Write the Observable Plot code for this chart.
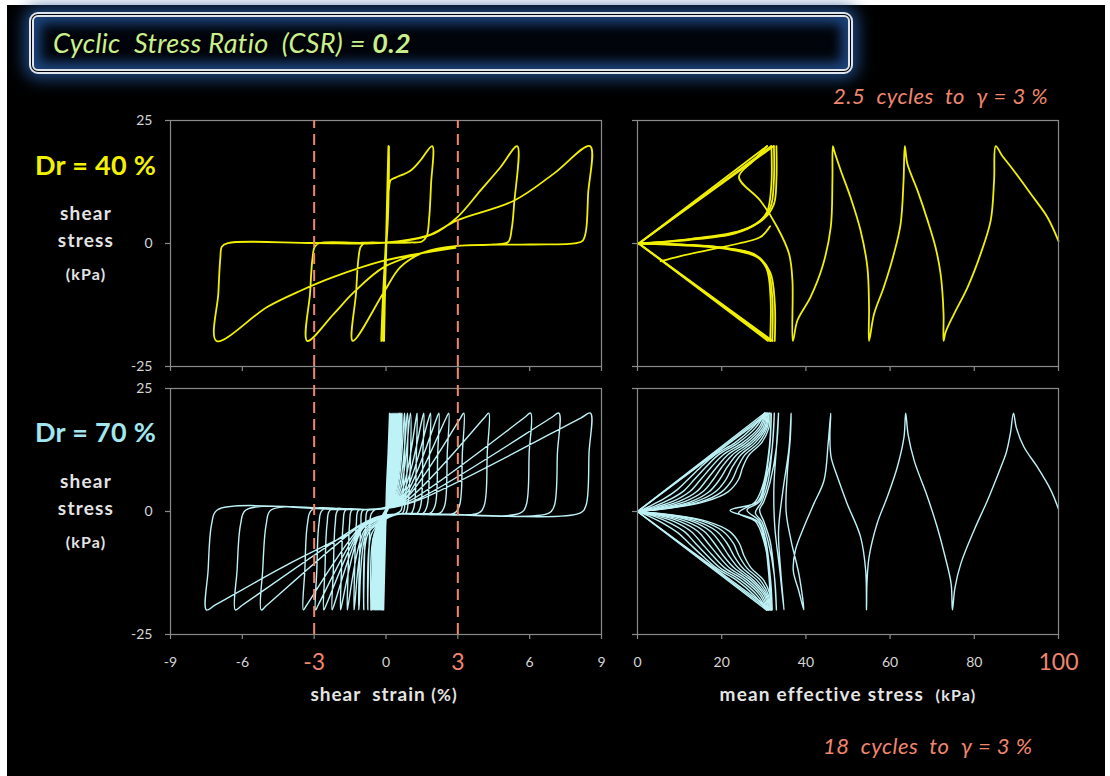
<!DOCTYPE html>
<html>
<head>
<meta charset="utf-8">
<script src="https://cdn.jsdelivr.net/npm/d3@7"></script>
<script src="https://cdn.jsdelivr.net/npm/@observablehq/plot@0.6"></script>
<style>
  html, body { margin: 0; padding: 0; background: #fff; }
  body { width: 1110px; height: 776px; position: relative; overflow: hidden; font-family: Lato, "Open Sans", sans-serif; }
  #stage { position: absolute; left: 7px; top: 5px; width: 1098px; height: 771px; background: #000; }
  .t { position: absolute; white-space: pre; line-height: 1; }
  .c { text-align: center; }
  .lab { font-weight: 700; color: #e4e4e4; }
  .panel { position: absolute; }
  #titlebox {
    position: absolute; left: 29px; top: 12px; width: 824px; height: 62px; box-sizing: border-box;
    border: 5px double #dfe3ea; border-radius: 9px;
    background: #01040a;
    box-shadow: 0 0 16px 5px rgba(34, 84, 150, 0.85), inset 0 0 12px 7px rgba(30, 72, 130, 0.95);
  }
</style>
</head>
<body>
<div id="stage"></div>
<div id="titlebox"></div>
<div class="t" style="left:53px;top:29px;font-size:27px;letter-spacing:0.3px;font-style:italic;color:#c9f08c;text-shadow:0 0 3px #000">Cyclic  Stress Ratio  (CSR) = <b>0.2</b></div>

<div class="t" style="left:833px;top:85px;font-size:22px;letter-spacing:0.5px;font-style:italic;color:#f0866c">2.5  cycles  to  γ = 3 %</div>
<div class="t" style="left:823px;top:735px;font-size:22px;letter-spacing:0.5px;font-style:italic;color:#f0866c">18  cycles  to  γ = 3 %</div>

<div class="t" style="left:35px;top:151px;font-size:27px;letter-spacing:0.3px;font-weight:700;color:#f2f200">Dr = 40 %</div>
<div class="t c lab" style="left:36px;width:100px;top:203px;font-size:19px;letter-spacing:1.2px">shear</div>
<div class="t c lab" style="left:36px;width:100px;top:230px;font-size:19px;letter-spacing:1.2px">stress</div>
<div class="t c lab" style="left:36px;width:100px;top:266px;font-size:16px;letter-spacing:1.1px">(kPa)</div>

<div class="t" style="left:35px;top:418px;font-size:27px;letter-spacing:0.3px;font-weight:700;color:#a2e6f0">Dr = 70 %</div>
<div class="t c lab" style="left:36px;width:100px;top:471px;font-size:19px;letter-spacing:1.2px">shear</div>
<div class="t c lab" style="left:36px;width:100px;top:498px;font-size:19px;letter-spacing:1.2px">stress</div>
<div class="t c lab" style="left:36px;width:100px;top:534px;font-size:16px;letter-spacing:1.1px">(kPa)</div>

<div class="t c lab" style="left:284px;width:200px;top:684px;font-size:19px;letter-spacing:1px">shear  strain <span style="font-size:17px">(%)</span></div>
<div class="t c lab" style="left:698px;width:300px;top:684px;font-size:19px;letter-spacing:1.2px">mean effective stress  <span style="font-size:16px">(kPa)</span></div>

<div id="tl" class="panel" style="left:130px;top:110px"></div>
<div id="tr" class="panel" style="left:597px;top:110px"></div>
<div id="bl" class="panel" style="left:130px;top:358px"></div>
<div id="br" class="panel" style="left:597px;top:358px"></div>

<script>
// ---- axes ----
const strainTicks = [-9, -6, -3, 0, 3, 6, 9];
const strainMarked = [-3, 3];            // γ = ±3 % criterion
const pTicks = [0, 20, 40, 60, 80, 100];
const pMarked = [100];
const stressTicks = [-25, 0, 25];

// ---- Dr = 40 %: shear stress (kPa) vs shear strain (%) ----
const loopDr40 = [
  [0,0],[0.04,8],[0.1,19.8],
  [0.05,5],[-0.02,-5],[-0.08,-19.8],
  [-0.03,-8],[0.05,5],[0.12,19.8],
  [0.06,5],[-0.04,-5],[-0.14,-19.8],
  [-0.08,-8],[0.04,5],[0.13,19.8],
  [0.08,5],[-0.05,-5],[-0.2,-19.8],
  [-0.12,-10],[0.05,5],[0.12,11],[0.2,12.9],[0.4,13.4],[1.02,14.8],[1.44,16.9],[1.93,19.8],
  [1.88,12],[1.8,5],[1.7,1.5],[1.5,0.4],[1.0,0.2],[0,0.15],[-0.85,0.1],[-1.05,-0.6],[-1.15,-3],[-1.25,-10],[-1.39,-19.8],
  [-0.09,-9.9],[0.6,-4.8],[1.58,-1.8],[2.97,-0.5],[4.5,-0.2],[5.1,0.3],[5.25,3],[5.35,8],[5.48,19.8],
  [4.78,15.5],[3.95,10.8],[2.97,5.3],[2.0,2.0],[0.6,0.4],[-1,0.15],[-2.75,0.1],[-2.97,-0.6],[-3.07,-3],[-3.17,-10],[-3.29,-19.8],
  [-2.18,-14.3],[-1.34,-9.9],[-0.09,-4.8],[1.58,-1.8],[3.0,-0.5],[6,-0.2],[7.95,0.1],[8.22,0.6],[8.35,2.5],[8.44,10],[8.52,19.8],
  [7.01,14.2],[5.34,8.7],[2.97,4.7],[1.72,1.6],[-0.09,0.15],[-3,0.1],[-6.6,0.1],[-6.85,-0.6],[-6.92,-3],[-7.0,-10],[-7.08,-19.8],
  [-4.96,-12.9],[-3.57,-9.6],[-2.18,-6.8],[-0.09,-3.5],[1.72,-1.8],[2.9,-0.9]
];

// ---- Dr = 40 %: stress path, shear stress vs mean effective stress ----
const pathDr40 = [
  [100,0.5],[97.4,5.3],[93.4,10.1],[89.4,14.8],[86.5,18],[85.1,19.8],
  [84.7,12.8],[83.9,4.7],[81.5,-2.1],[78.4,-8.9],[75.2,-14.3],[73.2,-18],[72.7,-19.8],
  [72.7,-14.3],[72.0,-6.2],[70.8,-0.8],[68.9,4.7],[66.5,10.8],[64.1,16.2],[63.5,19.8],
  [63.2,12.8],[62.5,4.0],[60.9,-2.1],[58.5,-8.9],[56.2,-14.3],[55.0,-19.8],
  [55.0,-12.9],[54.6,-4.8],[53.0,2.6],[50.6,9.4],[48.3,14.8],[46.7,18.9],[46.4,19.8],
  [46.3,12.8],[45.9,3.3],[43.9,-4.8],[41.1,-10.9],[38.0,-15.6],[36.9,-19.8],
  [36.8,-7.5],[36.0,-2.1],[33.2,3.3],[29.2,8.7],[24.1,13.5],[27.5,16.8],[30.8,19.8]
];
const arcsDr40 = [
  [[32.4,19.8],[32.4,12.8],[31.6,7.4],[29.2,4.7],[23.7,2.3],[11.8,0.8],[0.3,0]],
  [[31.8,19.8],[31.8,12],[30.8,6.5],[28.3,4],[23,2],[12,0.7],[0.3,0]],
  [[33,19.8],[33,13],[32.4,8],[30,5],[24.5,2.6],[12.5,0.9],[0.3,0]],
  [[32.0,-19.8],[32.0,-10.9],[30.8,-4.8],[27.6,-2.1],[19.7,-0.8],[6.3,-0.1],[0.3,0]],
  [[31.5,-19.8],[31.6,-11],[30.6,-5],[27.5,-2.2],[19.7,-0.8],[6.3,-0.1],[0.3,0]],
  [[32.6,-19.8],[32.6,-12],[31.5,-5.8],[28.5,-2.8],[21,-1.1],[7,-0.2],[0.3,0]],
  [[5.5,-3.6],[10,-2.6],[18.1,-1.1],[24,0],[29.2,1.3],[31.5,3.5]]
];
const envelopeDr40 = [
  [[0.3,0],[30.8,19.8]], [[0.3,0],[31.8,19.8]], [[0.3,0],[32.4,19.8]],
  [[0.3,0],[31.0,-19.8]], [[0.3,0],[31.6,-19.8]], [[0.3,0],[32.1,-19.8]]
];

// ---- Dr = 70 %: shear stress vs shear strain ----
const loopDr70Early = [
  [0,0],[0.04,6],[0.11,12],[0.15,20],
  [0.09,12],[0.02,4.5],[-0.02,-4.5],[-0.06,-12],[-0.1,-20],
  [-0.07,-12],[-0.03,-5],[0.06,4],[0.16,12],[0.2,20],
  [0.14,12],[0.06,4.5],[-0.06,-4.5],[-0.11,-12],[-0.15,-20],
  [-0.12,-12],[-0.07,-5],[0.1,4],[0.2,12],[0.24,20],
  [0.18,12],[0.09,4.5],[-0.1,-4.5],[-0.16,-12],[-0.2,-20],
  [-0.17,-12],[-0.11,-5],[0.13,4],[0.24,12],[0.28,20],
  [0.22,12],[0.12,4.5],[-0.13,-4.5],[-0.2,-12],[-0.24,-20],
  [-0.21,-12],[-0.15,-5],[0.16,4],[0.28,12],[0.32,20],
  [0.26,12],[0.15,4.5],[-0.17,-4.5],[-0.24,-12],[-0.28,-20],
  [-0.25,-12],[-0.19,-5],[0.19,4],[0.32,12],[0.36,20],
  [0.3,12],[0.18,4.5],[-0.21,-4.5],[-0.28,-12],[-0.32,-20],
  [-0.29,-12],[-0.23,-5],[0.22,4],[0.36,12],[0.4,20],
  [0.34,12],[0.21,4.5],[-0.25,-4.5],[-0.32,-12],[-0.36,-20],
  [-0.33,-12],[-0.27,-5],[0.25,4],[0.4,12],[0.44,20],
  [0.38,12],[0.24,4.5],[-0.29,-4.5],[-0.36,-12],[-0.4,-20],
  [-0.37,-12],[-0.3,-5],[0.28,4],[0.44,12],[0.48,20],
  [0.42,12],[0.27,4.5],[-0.33,-4.5],[-0.4,-12],[-0.44,-20],
  [-0.41,-12],[-0.33,-5],[0.31,4],[0.48,12],[0.52,20],
  [0.46,12],[0.3,4.5],[-0.37,-4.5],[-0.44,-12],[-0.48,-20],
  [-0.45,-12],[-0.36,-5],[0.34,4],[0.52,12],[0.57,20],
  [0.5,12],[0.33,4.5],[-0.41,-4.5],[-0.48,-12],[-0.52,-20],
  [-0.49,-12],[-0.39,-5],[0.37,4],[0.57,12],[0.62,20],
  [0.55,12],[0.36,4.5],[-0.45,-4.5],[-0.53,-12],[-0.57,-20],
  [-0.54,-12],[-0.42,-5],[0.4,4],[0.62,12],[0.67,20],
  [0.6,12],[0.39,4.5],[-0.49,-4.5],[-0.58,-12],[-0.62,-20]
];
const loopDr70Late = [
  [-0.62,-20],
  [-0.5,-4.8],[0,-1.5],[0.35,-0.6],[0.62,0.2],[0.7,3],[0.78,20],
  [0.45,4],[0.05,1],[-0.45,0.4],[-0.62,-0.5],[-0.68,-4],[-0.76,-20],
  [-0.6,-4.5],[-0.1,-1.8],[0.4,-0.6],[0.7,-0.3],[0.8,2],[0.9,20],
  [0.5,3.8],[0.05,1],[-0.55,0.4],[-0.78,0.1],[-0.85,-3],[-0.93,-20],
  [-0.75,-4.5],[-0.15,-2],[0.4,-0.6],[0.82,-0.35],[0.92,1.5],[1.02,20],
  [0.55,3.6],[0.05,1],[-0.6,0.4],[-0.98,0.2],[-1.05,-3],[-1.12,-12],[-1.14,-20],
  [-1.12,-19],[-0.8,-4.2],[-0.2,-2],[0.45,-0.6],[1.05,-0.35],[1.18,1.2],[1.27,12],[1.3,20],
  [1.26,19],[0.6,3.4],[0.05,1],[-0.7,0.4],[-1.15,0.25],[-1.24,-2.5],[-1.31,-12],[-1.34,-20],
  [-1.31,-19],[-0.85,-4],[-0.25,-1.8],[0.5,-0.55],[1.3,-0.35],[1.45,1.2],[1.54,12],[1.58,20],
  [1.52,19],[0.65,3.2],[0,0.9],[-0.8,0.4],[-1.42,0.3],[-1.52,-2.5],[-1.58,-12],[-1.62,-20],
  [-1.58,-19],[-0.9,-3.8],[-0.3,-1.6],[0.55,-0.5],[1.55,-0.35],[1.72,1.2],[1.82,12],[1.86,20],
  [1.79,19],[0.7,3],[0,0.9],[-0.9,0.4],[-1.68,0.3],[-1.79,-2.5],[-1.86,-12],[-1.9,-20],
  [-1.85,-19],[-1.0,-3.6],[-0.3,-1.5],[0.6,-0.5],[1.85,-0.35],[2.05,1.2],[2.16,12],[2.21,20],
  [2.12,19],[0.75,2.9],[0,0.8],[-1.0,0.4],[-2.0,0.3],[-2.12,-2.5],[-2.2,-12],[-2.25,-20],
  [-2.17,-19],[-1.0,-3.4],[-0.3,-1.4],[0.6,-0.5],[2.25,-0.35],[2.45,1.2],[2.56,12],[2.62,20],
  [2.51,19],[0.8,2.7],[0,0.8],[-1.1,0.4],[-2.33,0.3],[-2.46,-2.5],[-2.55,-12],[-2.6,-20],
  [-2.5,-19],[-1.0,-3.2],[-0.3,-1.3],[0.6,-0.5],[2.85,-0.35],[3.07,1.2],[3.19,12],[3.25,20],
  [3.11,19],[0.8,2.5],[0,0.7],[-1.2,0.4],[-2.65,0.3],[-2.8,-2.5],[-2.89,-12],[-2.94,-20],
  [-2.83,-19],[-1.0,-3],[-0.3,-1.2],[0.7,-0.45],[3.85,-0.35],[4.1,1.2],[4.23,12],[4.29,20],
  [4.1,19],[0.9,2.4],[0,0.7],[-1.3,0.4],[-3.1,0.3],[-3.28,-2.5],[-3.39,-12],[-3.45,-20],
  [-3.31,-19],[-1.0,-2.8],[-0.3,-1.1],[0.8,-0.45],[5.6,-0.35],[5.85,1.2],[5.98,12],[6.04,20],
  [5.76,19],[1.0,2.2],[0,0.6],[-1.5,0.4],[-4.8,0.3],[-5.0,-2.5],[-5.15,-12],[-5.21,-20],
  [-4.97,-19],[-1.0,-2.6],[-0.3,-1.0],[0.9,-0.4],[6.8,-0.35],[7.03,1.2],[7.16,12],[7.22,20],
  [6.88,19],[1.2,2.2],[0,0.6],[-1.6,0.4],[-5.85,0.3],[-6.07,-2.5],[-6.22,-12],[-6.29,-20],
  [-5.99,-19],[-1.0,-2.5],[-0.3,-1.0],[1.0,-0.4],[8.1,-0.35],[8.35,1.2],[8.48,12],[8.54,20],
  [8.13,19],[1.3,2.2],[0,0.6],[-1.8,0.4],[-7.05,0.3],[-7.28,-2.5],[-7.43,-12],[-7.5,-20],
  [-7.13,-19],[-4.0,-10.5],[-1.5,-4.5]
];

// ---- Dr = 70 %: stress path ----
const pathDr70 = [
  [100,0.5],[98.2,4.3],[95.0,9.0],[91.8,13.1],[90.0,17],[89.3,20],
  [88.6,16],[87.6,12],[86.3,9.0],[83.1,2.2],[79.9,-3.9],[76.8,-10.6],[75.4,-15.5],[74.8,-20],
  [74.5,-14.7],[73.1,-9.3],[71.2,-3.2],[68.9,2.9],[65.7,10.4],[64.3,15.5],[63.7,20],
  [63.3,15.1],[61.7,9.0],[59.3,2.9],[56.9,-2.5],[55.0,-9.3],[54.5,-14.7],[54.4,-20],
  [54.2,-12],[53.0,-5.2],[49.8,1.6],[47.5,7.0],[46.0,11.0],[45.7,15.1],[45.9,20],
  [45.3,14],[44.3,6.3],[41.9,1.6],[39.5,-3.2],[37.5,-7.9],[37.0,-12],[38.3,-16.1],[39.5,-20],
  [38.4,-13],[36.5,-6],[35.3,0],[35.6,8],[36.3,15],[36.5,20],
  [36,13],[34.5,4],[33.5,-4],[34,-12],[34.8,-20],
  [33.8,-12],[32.6,-3],[32.4,5],[33,13],[33.5,20],
  [33,13],[31.5,6],[30,2],[29,0.3],[30,-2],[31.5,-6],[32.5,-13],[33,-20],
  [32.5,-13],[31,-6],[29.5,-2],[28,-0.3],[29.5,2],[31,6],[32,13],[32.5,20],
  [32,13],[30.5,6],[29,2],[26,0.3],[29,-2],[30.5,-6],[31.5,-13],[32,-20],
  [31.5,-13],[30,-6],[28,-2],[24,-0.3],[28,2],[30,6],[31.3,13],[31.8,20],
  [31.4,13],[30.2,6],[28.5,2],[22,0.2],[28.5,-2],[30.2,-6],[31.2,-13],[31.6,-20]
];
const arcsDr70 = [
  [[31.5,20],[31.2,17],[29.5,14],[26.5,11.5],[25,9],[24,6.5],[21.5,4],[16,2],[8,0.7],[2,0.15],[0,0]],
  [[31.2,20],[30.8,17],[28.8,14],[25.5,11.5],[23.8,9],[22.5,6.5],[20,4],[14.8,1.9],[7.4,0.7],[1.8,0.15],[0,0]],
  [[31,20],[30.5,17],[28,14],[24.5,11.5],[22.5,9],[21,6.5],[18.5,4],[13.5,1.9],[6.8,0.7],[1.7,0.15],[0,0]],
  [[30.8,20],[30.2,17],[27.3,14],[23.5,11.5],[21.3,9],[19.5,6.5],[17,4],[12.4,1.9],[6.2,0.7],[1.6,0.15],[0,0]],
  [[30.6,20],[29.8,17],[26.6,14],[22.5,11.5],[20,9],[18,6.5],[15.5,4],[11.2,2],[5.6,0.75],[1.5,0.18],[0,0]],
  [[30.5,20],[29.3,17],[25.8,14],[21.4,11.5],[18.8,9],[16.5,6.5],[14,4],[10,2.1],[5,0.8],[1.4,0.2],[0,0]],
  [[30.4,20],[28.8,17],[25,14],[20.3,11.5],[17.5,9],[15,6.5],[12.5,4.1],[8.8,2.2],[4.4,0.9],[1.2,0.22],[0,0]],
  [[30.3,20],[28,17],[24,14],[19.2,11.5],[16.2,9],[13.5,6.5],[11,4.2],[7.6,2.4],[3.8,1],[1,0.25],[0,0]],
  [[30.2,20],[27.3,17],[23.2,14],[18.4,11.5],[15,9],[12,6.5],[9.4,4.4],[6.3,2.6],[3.2,1.2],[0.9,0.3],[0,0]],
  [[31.8,-20],[31.5,-17],[30,-14],[27,-11.5],[25.3,-9],[24.2,-6.5],[21.8,-4],[16.5,-2],[8.3,-0.7],[2,-0.15],[0,0]],
  [[31.5,-20],[31.1,-17],[29.2,-14],[26,-11.5],[24.1,-9],[22.8,-6.5],[20.3,-4],[15.2,-1.9],[7.6,-0.7],[1.9,-0.15],[0,0]],
  [[31.3,-20],[30.8,-17],[28.4,-14],[25,-11.5],[22.9,-9],[21.3,-6.5],[18.8,-4],[13.8,-1.9],[7,-0.7],[1.7,-0.15],[0,0]],
  [[31.1,-20],[30.5,-17],[27.6,-14],[24,-11.5],[21.7,-9],[19.8,-6.5],[17.3,-4],[12.7,-1.9],[6.4,-0.7],[1.6,-0.15],[0,0]],
  [[31,-20],[30.1,-17],[27,-14],[23,-11.5],[20.4,-9],[18.3,-6.5],[15.8,-4],[11.5,-2],[5.8,-0.75],[1.5,-0.18],[0,0]],
  [[30.9,-20],[29.6,-17],[26.2,-14],[21.9,-11.5],[19.2,-9],[16.8,-6.5],[14.3,-4],[10.3,-2.1],[5.2,-0.8],[1.4,-0.2],[0,0]],
  [[30.8,-20],[29.1,-17],[25.4,-14],[20.8,-11.5],[17.9,-9],[15.3,-6.5],[12.8,-4.1],[9.1,-2.2],[4.6,-0.9],[1.2,-0.22],[0,0]],
  [[30.7,-20],[28.4,-17],[24.5,-14],[19.7,-11.5],[16.6,-9],[13.8,-6.5],[11.3,-4.2],[7.9,-2.4],[4,-1],[1,-0.25],[0,0]],
  [[30.6,-20],[27.7,-17],[23.6,-14],[18.8,-11.5],[15.4,-9],[12.3,-6.5],[9.7,-4.4],[6.5,-2.6],[3.3,-1.2],[0.9,-0.3],[0,0]]
];
const envelopeDr70 = [
  [[0,0],[30.2,20]], [[0,0],[30.8,20]], [[0,0],[31.4,20]],
  [[0,0],[30.6,-20]], [[0,0],[31.2,-20]], [[0,0],[31.8,-20]]
];

// ---- styling ----
const yellow = "#f0f000";
const cyan = "#bdf2f6";
const frameGray = "#8a8a8a";
const tickText = "#d6d6d6";
const salmon = "#f0866c";

// turns a list of point lists into rows tagged by series id
const toRows = (paths, tag) =>
  paths.flatMap((pts, i) => pts.map(([x, y]) => ({x, y, id: `${tag}${i}`})));

function panel({xDomain, xTicks, marked, rows, color, lineWidth, labels, yLabels, dashes, top, bottom, right}) {
  const plain = xTicks.filter(t => !marked.includes(t));
  const marks = [
    Plot.line(rows, {x: "x", y: "y", z: "id", stroke: color, strokeWidth: lineWidth, curve: "catmull-rom"}),
    Plot.frame({stroke: frameGray, strokeWidth: 1.2}),
    Plot.axisX(xTicks, {anchor: "bottom", tickSize: 5, tickFormat: () => "", stroke: frameGray, strokeWidth: 1.2, label: null}),
    Plot.axisY(stressTicks, {anchor: "left", tickSize: 5, tickPadding: 13, fontSize: 14,
      tickFormat: yLabels ? d => String(d) : () => "",
      fill: tickText, stroke: frameGray, strokeWidth: 1.2, label: null})
  ];
  if (dashes) {
    marks.push(Plot.ruleX(strainMarked, {y1: -25, y2: dashes, stroke: salmon, strokeWidth: 2, strokeDasharray: "11,6"}));
  }
  if (labels) {
    marks.push(Plot.axisX(plain, {anchor: "bottom", tickSize: 0, tickPadding: 23, fontSize: 14,
      tickFormat: d => String(d), fill: tickText, label: null}));
    marks.push(Plot.axisX(marked, {anchor: "bottom", tickSize: 0, tickPadding: 19, fontSize: 23,
      tickFormat: d => String(d), fill: salmon, label: null}));
  }
  return Plot.plot({
    width: 40 + (xDomain[0] < 0 ? 431 : 421) + right,
    height: top + 246 + bottom,
    marginLeft: 40, marginRight: right, marginTop: top, marginBottom: bottom,
    style: {background: "transparent", fontFamily: "Lato, 'Open Sans', sans-serif", overflow: "visible"},
    x: {domain: xDomain, axis: null},
    y: {domain: [-25, 25], axis: null},
    marks
  });
}

document.getElementById("tl").append(panel({
  xDomain: [-9, 9], xTicks: strainTicks, marked: strainMarked,
  rows: toRows([loopDr40], "a"), color: yellow, lineWidth: 1.8, labels: false, yLabels: true, dashes: 25,
  top: 10, bottom: 10, right: 10
}));
document.getElementById("tr").append(panel({
  xDomain: [0, 100], xTicks: pTicks, marked: pMarked,
  rows: toRows([pathDr40, ...arcsDr40, ...envelopeDr40], "b"), color: yellow, lineWidth: 1.8, labels: false, yLabels: false, dashes: null,
  top: 10, bottom: 10, right: 30
}));
document.getElementById("bl").append(panel({
  xDomain: [-9, 9], xTicks: strainTicks, marked: strainMarked,
  rows: toRows([loopDr70Early, loopDr70Late], "c"), color: cyan, lineWidth: 1.4, labels: true, yLabels: true, dashes: 29.5,
  top: 30, bottom: 45, right: 10
}));
document.getElementById("br").append(panel({
  xDomain: [0, 100], xTicks: pTicks, marked: pMarked,
  rows: toRows([pathDr70, ...arcsDr70, ...envelopeDr70], "d"), color: cyan, lineWidth: 1.4, labels: true, yLabels: false, dashes: null,
  top: 30, bottom: 45, right: 30
}));
</script>
</body>
</html>
